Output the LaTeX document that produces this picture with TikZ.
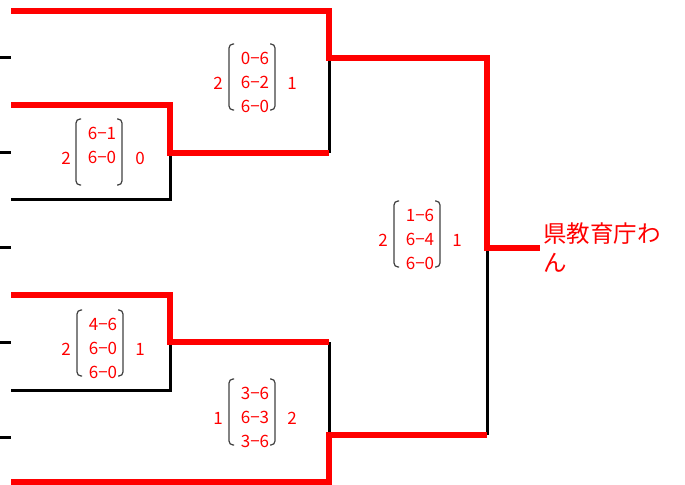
\documentclass[tikz,border=0pt]{standalone}
\usepackage{fontspec}
\setmainfont{Noto Sans CJK JP}
\usetikzlibrary{calc}
\tikzset{
  win/.style={red,line width=6bp,line join=miter},
  lose/.style={black,line width=3bp},
  tick/.style={black,line width=3bp},
  score/.style={red,inner sep=0pt,align=center,font=\fontsize{17bp}{24bp}\selectfont},
  paren/.style={draw=black!75,line width=1.2bp,rounded corners=4bp},
  champ/.style={red,inner sep=3bp,anchor=west,align=left,font=\fontsize{23.5bp}{29bp}\selectfont},
}
\begin{document}
\begin{tikzpicture}[x=1bp,y=-1bp]
\useasboundingbox (0,0) rectangle (685,485);
%% bracket corners
\coordinate (s1) at (11,11);
\coordinate (s2) at (11,105);
\coordinate (s3) at (11,200);
\coordinate (s4) at (11,295);
\coordinate (s5) at (11,390);
\coordinate (s6) at (11,482);
\coordinate (j1) at (170,153);
\coordinate (j2) at (170,342);
\coordinate (u1) at (329,153);
\coordinate (u2) at (329,342);
\coordinate (k1) at (329,58);
\coordinate (k2) at (329,435);
\coordinate (v1) at (487,435);
\coordinate (f) at (487,248);
\node[champ] (champ) at (540,248) {県教育庁わ\\ん};
%% stubs
\foreach \y in {58,153,248,342,437}
  \draw[tick] (0,\y) -- (11,\y);
%% losers
\draw[lose] (s3) -| (j1);
\draw[lose] (u1) -- (k1);
\draw[lose] (s5) -| (j2);
\draw[lose] (u2) -- (k2);
\draw[lose] (v1) -- (f);
%% winners
\draw[win] (s1) -| (k1) -| (f) -- (champ.west);
\draw[win] (s2) -| (j1) -- (u1);
\draw[win] (s4) -| (j2) -- (u2);
\draw[win] (s6) -| (k2) -- (v1);
%% scores
\node[score] (m1) at (102,159) {6−1\strut\\6−0\strut\\\strut};
\node[score] (m2) at (255,84) {0−6\strut\\6−2\strut\\6−0\strut};
\node[score] (m3) at (103,350) {4−6\strut\\6−0\strut\\6−0\strut};
\node[score] (m4) at (255,419) {3−6\strut\\6−3\strut\\3−6\strut};
\node[score] (m5) at (420,241) {1−6\strut\\6−4\strut\\6−0\strut};
\foreach \m in {m1,m2,m3,m4,m5} {
  \draw[paren] ($(\m)+(-21,-40)$) -- ($(\m)+(-26,-40)$) -- ($(\m)+(-26,26)$) -- ($(\m)+(-21,26)$);
  \draw[paren] ($(\m)+(15,-40)$) -- ($(\m)+(20,-40)$) -- ($(\m)+(20,26)$) -- ($(\m)+(15,26)$);
}
\node[score] (m1a) at (66,158) {2};
\node[score] (m1b) at (140,158) {0};
\node[score] (m2a) at (218,83) {2};
\node[score] (m2b) at (292,83) {1};
\node[score] (m3a) at (66,349) {2};
\node[score] (m3b) at (140,349) {1};
\node[score] (m4a) at (218,418) {1};
\node[score] (m4b) at (292,418) {2};
\node[score] (m5a) at (383,240) {2};
\node[score] (m5b) at (457,240) {1};
\end{tikzpicture}
\end{document}
